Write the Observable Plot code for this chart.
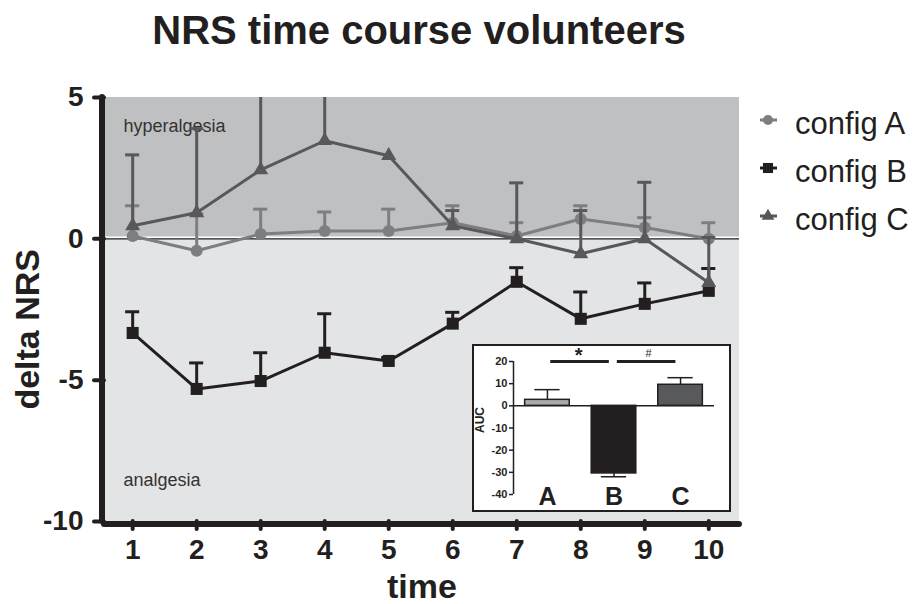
<!DOCTYPE html>
<html>
<head>
<meta charset="utf-8">
<script src="https://cdn.jsdelivr.net/npm/d3@7"></script>
<script src="https://cdn.jsdelivr.net/npm/@observablehq/plot@0.6"></script>
<style>
  body { margin: 0; background: #fff; }
  #wrap { position: relative; width: 919px; height: 604px; font-family: "Liberation Sans", Arial, Helvetica, sans-serif; color: #231f20; }
  #wrap > svg.main { position: absolute; left: 0; top: 0; }
  #title { position: absolute; left: 0; top: 10px; width: 838px; text-align: center; font-size: 40px; line-height: 40px; font-weight: bold; }
  #wrap > svg#legend { position: absolute; left: 750px; top: 95px; }
  #inset { position: absolute; left: 472px; top: 344px; width: 259px; height: 168px; border: 2px solid #231f20; box-sizing: border-box; background: #fff; }
  #inset svg { display: block; }
</style>
</head>
<body>
<div id="wrap"><div id="title">NRS time course volunteers</div></div>
<script>
// ---------- data ----------
const times = [1, 2, 3, 4, 5, 6, 7, 8, 9, 10];
const seriesNames = ["config A", "config B", "config C"];
const configA = [0.1, -0.42, 0.17, 0.28, 0.28, 0.57, 0.1, 0.7, 0.4, 0.0];
const errA    = [1.07, 1.3, 0.88, 0.67, 0.77, 0.6, 0.47, 0.47, 0.35, 0.57];
const configB = [-3.33, -5.31, -5.03, -4.03, -4.32, -3.0, -1.52, -2.83, -2.3, -1.84];
const errB    = [0.75, 0.92, 1.0, 1.38, 0.12, 0.4, 0.5, 0.95, 0.74, 0.79];
const configC = [0.46, 0.92, 2.44, 3.47, 2.94, 0.46, 0.0, -0.53, 0.0, -1.55];
const errC    = [2.51, 2.98, 3.2, 2.6, 0.0, 0.54, 1.98, 1.53, 2.0, 1.6];
const yTicks = [5, 0, -5, -10];
const regionLabels = ["hyperalgesia", "analgesia"];
const regionBounds = [[0, 5], [-10, 0]];

// inset (AUC)
const aucCats = ["A", "B", "C"];
const aucValues = [2.7, -30.5, 9.5];
const aucErrors = [4.6, 1.5, 3.2];
const aucTicks = [20, 10, 0, -10, -20, -30, -40];
const sigPairs = [["A", "B"], ["B", "C"]];
const sigLabels = ["*", "#"];

// ---------- styling ----------
const FONT = '"Liberation Sans", Arial, Helvetica, sans-serif';
const INK = "#231f20";
const seriesColors = ["#7d7e80", "#231f20", "#58585a"];
const seriesSymbols = ["circle", "square", "triangle"];
const seriesR = [6, 6.8, 5.6];
const regionFills = ["#bfc0c2", "#e3e4e6"];
const aucFills = ["#a9abae", "#231f20", "#58595b"];
const plainNum = d => String(d);

const values = [configA, configB, configC];
const errors = [errA, errB, errC];
const xDomain = [0.56, 10.48];

const seriesRows = seriesNames.map((s, k) =>
  times.map((t, i) => ({ series: s, t, v: values[k][i], e: errors[k][i] }))
);
const regions = regionLabels.map((label, i) => ({ label, y1: regionBounds[i][0], y2: regionBounds[i][1], fill: regionFills[i] }));

const seriesMarks = seriesRows.flatMap((rows, k) => [
  Plot.ruleX(rows.filter(d => d.e > 0), { x: "t", y1: "v", y2: d => d.v + d.e, stroke: seriesColors[k], strokeWidth: 3, clip: true }),
  Plot.ruleY(rows.filter(d => d.e > 0), { y: d => d.v + d.e, x1: d => d.t - 0.11, x2: d => d.t + 0.11, stroke: seriesColors[k], strokeWidth: 3, clip: true }),
  Plot.line(rows, { x: "t", y: "v", stroke: seriesColors[k], strokeWidth: 3 }),
  Plot.dot(rows, { x: "t", y: "v", symbol: seriesSymbols[k], r: seriesR[k], fill: seriesColors[k], stroke: "none" })
]);

const main = Plot.plot({
  className: "main",
  width: 919, height: 604,
  marginLeft: 104, marginRight: 180, marginTop: 97, marginBottom: 83,
  style: { fontFamily: FONT, color: INK, background: "transparent", overflow: "visible" },
  x: { domain: xDomain },
  y: { domain: [-10, 5] },
  color: { type: "identity" },
  marks: [
    Plot.rect(regions, { y1: "y1", y2: "y2", fill: "fill" }),
    Plot.text([regionLabels[0]], { frameAnchor: "top-left", dx: 19, dy: 29, fontSize: 18, fill: "#333", textAnchor: "start", lineAnchor: "middle" }),
    Plot.text([regionLabels[1]], { frameAnchor: "bottom-left", dx: 19, dy: -41, fontSize: 18, fill: "#333", textAnchor: "start", lineAnchor: "middle" }),
    Plot.ruleY([0], { stroke: "white", strokeWidth: 1.5, dy: -1.5 }),
    Plot.ruleY([0], { stroke: INK, strokeWidth: 1.3 }),
    ...seriesMarks,
    Plot.axisY({ ticks: yTicks, tickFormat: plainNum, tickSize: 10, tickPadding: 11, fontSize: 28, fontWeight: "bold", stroke: INK, strokeWidth: 4, strokeLinecap: "round", label: null }),
    Plot.axisX({ ticks: times, tickFormat: plainNum, tickSize: 8, tickPadding: 10, fontSize: 28, fontWeight: "bold", stroke: INK, strokeWidth: 4, strokeLinecap: "round", label: null }),
    Plot.ruleX([xDomain[0]], { dx: -2.5, stroke: INK, strokeWidth: 6, strokeLinecap: "round" }),
    Plot.ruleY([-10], { dy: 2.5, stroke: INK, strokeWidth: 6, strokeLinecap: "round" }),
    Plot.text(["time"], { frameAnchor: "bottom", dy: 76, fontSize: 34, fontWeight: "bold", fill: INK }),
    Plot.text(["delta NRS"], { frameAnchor: "left", y: () => -3.2, dx: -76, rotate: -90, textAnchor: "middle", lineAnchor: "middle", fontSize: 34, fontWeight: "bold", fill: INK })
  ]
});
const wrap = document.getElementById("wrap");
wrap.insertBefore(main, wrap.firstChild);

// ---------- legend ----------
const leg = d3.select(wrap).append("svg").attr("id", "legend").attr("width", 169).attr("height", 150)
  .style("font-family", FONT);
const symMap = { circle: d3.symbolCircle, square: d3.symbolSquare, triangle: d3.symbolTriangle };
seriesNames.forEach((name, k) => {
  const y = 25 + k * 48;
  const g = leg.append("g");
  g.append("line").attr("x1", 10).attr("x2", 27).attr("y1", y).attr("y2", y)
    .attr("stroke", seriesColors[k]).attr("stroke-width", 3);
  g.append("path").attr("transform", `translate(18,${y})`)
    .attr("d", d3.symbol(symMap[seriesSymbols[k]], Math.PI * seriesR[k] * seriesR[k] * 0.7)())
    .attr("fill", seriesColors[k]);
  g.append("text").attr("x", 45).attr("y", y + 3).attr("dy", "0.35em")
    .attr("font-size", 31).attr("fill", INK).text(name);
});

// ---------- inset ----------
const aucRows = aucCats.map((c, i) => ({ cat: c, i: i + 1, v: aucValues[i], e: aucErrors[i], sign: aucValues[i] < 0 ? -1 : 1, fill: aucFills[i] }));
const idx = c => aucCats.indexOf(c) + 1;
const sigRows = sigPairs.map((p, j) => ({ a: idx(p[0]), b: idx(p[1]), label: sigLabels[j] }));
const aucXDomain = [0.49, 3.51];

const inset = Plot.plot({
  width: 255, height: 164,
  marginLeft: 39, marginRight: 15, marginTop: 15, marginBottom: 16,
  style: { fontFamily: FONT, color: INK, background: "white", overflow: "visible" },
  x: { domain: aucXDomain, axis: null },
  y: { domain: [-40, 20] },
  color: { type: "identity" },
  marks: [
    Plot.ruleX(aucRows, { x: "i", y1: "v", y2: d => d.v + d.sign * d.e, stroke: INK, strokeWidth: 1.5 }),
    Plot.ruleY(aucRows, { y: d => d.v + d.sign * d.e, x1: d => d.i - 0.19, x2: d => d.i + 0.19, stroke: INK, strokeWidth: 1.5 }),
    Plot.rect(aucRows, { x1: d => d.i - 0.335, x2: d => d.i + 0.335, y1: 0, y2: "v", fill: "fill", stroke: INK, strokeWidth: 1.5 }),
    Plot.ruleY([0], { stroke: INK, strokeWidth: 1.5 }),
    Plot.axisY({ ticks: aucTicks, tickFormat: plainNum, tickSize: 4, tickPadding: 2, fontSize: 11, fontWeight: "bold", stroke: INK, strokeWidth: 1.5, label: null }),
    Plot.ruleX([aucXDomain[0]], { stroke: INK, strokeWidth: 1.5 }),
    Plot.text(["AUC"], { frameAnchor: "left", dx: -33, dy: -8, rotate: -90, textAnchor: "middle", lineAnchor: "middle", fontSize: 12, fontWeight: "bold", fill: INK }),
    Plot.text(aucCats, { x: (d, i) => i + 1, frameAnchor: "bottom", dy: 2, lineAnchor: "middle", fontSize: 25, fontWeight: "bold", fill: INK }),
    Plot.ruleY(sigRows, { y: aucTicks[0], x1: d => d.a + 0.05, x2: d => d.b - 0.07, stroke: INK, strokeWidth: 3 }),
    Plot.text(sigRows.slice(0, 1), { x: d => (d.a + d.b) / 2 - 0.03, y: aucTicks[0], dy: -6, text: "label", fontSize: 20, fontWeight: "bold", fill: INK }),
    Plot.text(sigRows.slice(1), { x: d => (d.a + d.b) / 2 + 0.02, y: aucTicks[0], dy: -8, text: "label", fontSize: 11, fill: INK })
  ]
});
const insetDiv = document.createElement("div");
insetDiv.id = "inset";
insetDiv.appendChild(inset);
wrap.appendChild(insetDiv);
</script>
</body>
</html>
